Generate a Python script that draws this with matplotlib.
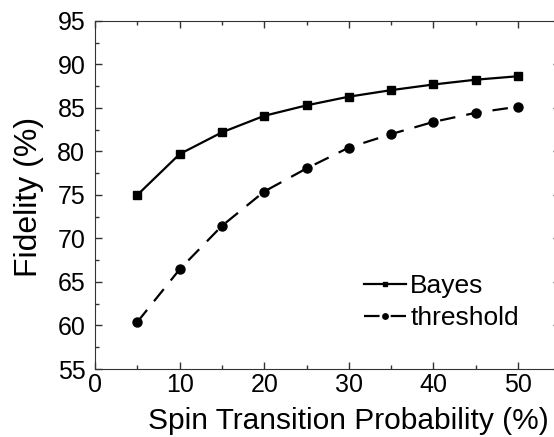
import matplotlib.pyplot as plt
from matplotlib.ticker import MultipleLocator

plt.rcParams['font.family'] = ['Liberation Sans', 'DejaVu Sans']

prob = [5, 10, 15, 20, 25, 30, 35, 40, 45, 50]
bayes = [75.0, 79.7, 82.2, 84.1, 85.3, 86.3, 87.05, 87.7, 88.25, 88.65]
threshold = [60.4, 66.45, 71.45, 75.4, 78.05, 80.45, 82.0, 83.4, 84.45, 85.15]

fig = plt.figure(figsize=(5.54, 4.37), dpi=100)
ax = fig.add_axes([0.1715, 0.1556, 0.84, 0.7964])

ax.plot(prob, bayes, color='black', lw=1.6, marker='s', ms=6, label='Bayes')
ax.plot(prob, threshold, color='black', lw=1.6, marker='o', ms=6.5,
        dashes=(7, 5), label='threshold')

ax.set_xlim(0, 55)
ax.set_ylim(55, 95)
ax.xaxis.set_major_locator(MultipleLocator(10))
ax.xaxis.set_minor_locator(MultipleLocator(5))
ax.yaxis.set_major_locator(MultipleLocator(5))
ax.yaxis.set_minor_locator(MultipleLocator(2.5))
ax.tick_params(which='both', direction='in', top=True, right=True,
               labelsize=18, width=1, color='#333333')
ax.tick_params(which='major', length=5)
ax.tick_params(which='minor', length=3)
ax.tick_params(axis='x', pad=3)
ax.tick_params(axis='y', pad=7)
for s in ax.spines.values():
    s.set_color('#333333')

ax.set_xlabel('Spin Transition Probability (%)', fontsize=21.5)
ax.xaxis.set_label_coords(0.545, -0.108)
ax.set_ylabel('Fidelity (%)', fontsize=23)
ax.yaxis.set_label_coords(-0.11, 0.495)

ax.legend(loc='lower left', bbox_to_anchor=(0.55, 0.073), frameon=False,
          fontsize=19, handlelength=1.6, handletextpad=0.15, markerscale=0.6,
          labelspacing=0.32, borderpad=0)

fig.savefig('out.png', dpi=100)
